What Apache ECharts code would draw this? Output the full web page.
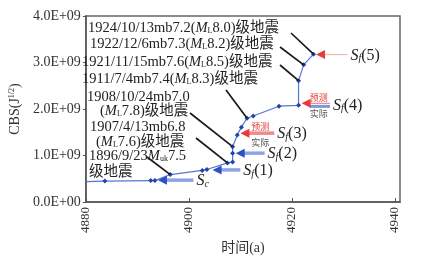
<!DOCTYPE html>
<html><head><meta charset="utf-8">
<script src="https://cdn.jsdelivr.net/npm/echarts@6/dist/echarts.min.js"></script>
<style>html,body{margin:0;padding:0;background:#fff}#c{width:424px;height:262px}</style>
</head><body><div id="c"></div>
<script>
// ---- data ----
const years = [4880, 4883.7, 4892.6, 4893.4, 4896.4, 4902.6, 4903.5, 4907.5, 4908.5, 4908.5, 4908.5, 4909.4, 4910.2, 4911.3, 4912.5, 4917.5, 4921.3, 4921.3, 4922.3, 4924.2];
const cbs = [0.44, 0.45, 0.46, 0.46, 0.59, 0.68, 0.70, 0.84, 0.86, 1.05, 1.19, 1.44, 1.61, 1.80, 1.85, 2.06, 2.08, 2.61, 2.95, 3.18].map(v => v * 1e9);
const yTicks = ['0.0E+00', '1.0E+09', '2.0E+09', '3.0E+09', '4.0E+09'];
const xTicks = ['4880', '4900', '4920', '4940'];

// threshold arrows (S_c, S_f(1..5))
const arrowLabels = ['{si|S}{sub|c}', '{si|S}{sub|f}{r|(1)}', '{si|S}{sub|f}{r|(2)}', '{si|S}{sub|f}{r|(3)}', '{si|S}{sub|f}{r|(4)}', '{si|S}{sub|f}{r|(5)}'];
const arrowY = [0.47, 0.69, 1.05, 1.48, 2.10, 3.17].map(v => v * 1e9);
const arrowTail = [4900.9, 4910.0, 4914.7, 4916.6, 4927.4, 4930.8];
const arrowTip = [4894.0, 4904.6, 4909.1, 4910.0, 4921.9, 4924.7];
const arrowKind = ['actual', 'actual', 'actual', 'pred', 'both', 'predThin'];

// earthquake annotations
const quakeLines = [
  ['1924/10/13mb7.2({i|M}{s|L}8.0)级地震'],
  ['1922/12/6mb7.3({i|M}{s|L}8.2)级地震'],
  ['1921/11/15mb7.6({i|M}{s|L}8.5)级地震'],
  ['1911/7/4mb7.4({i|M}{s|L}8.3)级地震'],
  ['1908/10/24mb7.0', '({i|M}{s|L}7.8)级地震'],
  ['1907/4/13mb6.8', '({i|M}{s|L}7.6)级地震'],
  ['1896/9/23{i|M}{s|uk}7.5', '级地震']
];
const quakePoint = [19, 18, 17, 13, 10, 7, 4];

// ---- layout (pixels) ----
const quakeTextPos = [[88, 28], [90, 44], [82, 62], [82, 79], [87, 97, 100, 111], [90, 127, 96, 142], [89, 156, 89, 172]];
const leaderStart = [[291, 33], [280, 47], [280, 65], [226, 90], [190, 113], [196, 138], [147, 157]];

const SERIF = '"Liberation Serif","Times New Roman","Noto Sans CJK SC",serif';
const chart = echarts.init(document.getElementById('c'), null, {renderer: 'canvas'});

const lineData = years.map((x, i) => i === 0 ? {value: [x, cbs[i]], symbol: 'none'} : [x, cbs[i]]);

chart.setOption({
  animation: false,
  backgroundColor: '#fff',
  grid: {left: 79, right: 24, top: 16, bottom: 60, show: true, borderColor: '#666', borderWidth: 1.5},
  xAxis: {
    type: 'value', min: 4880, max: 4941, interval: 20,
    name: '时间(a)', nameLocation: 'middle', nameGap: 39,
    nameTextStyle: {fontFamily: SERIF, fontSize: 14, color: '#333'},
    axisLine: {lineStyle: {color: '#555', width: 1.5}},
    axisTick: {inside: true, length: 4, lineStyle: {color: '#555'}},
    axisLabel: {rotate: 90, margin: 5, fontFamily: SERIF, fontSize: 13, color: '#333', showMaxLabel: false,
      formatter: v => { const i = xTicks.indexOf(String(v)); return i >= 0 ? xTicks[i] : ''; }},
    splitLine: {show: false}
  },
  yAxis: {
    type: 'value', min: 0, max: 4e9, interval: 1e9,
    name: '{a|CBS(J}{b|1/2}{a|)}', nameLocation: 'middle', nameGap: 60,
    nameTextStyle: {rich: {a: {fontFamily: SERIF, fontSize: 14, color: '#333'}, b: {fontFamily: SERIF, fontSize: 8, color: '#333', verticalAlign: 'top', lineHeight: 10}}},
    axisLine: {show: true, lineStyle: {color: '#555', width: 1.5}},
    axisTick: {show: true, length: 3, lineStyle: {color: '#555'}},
    axisLabel: {margin: 5, fontFamily: SERIF, fontSize: 14, color: '#333', formatter: v => yTicks[Math.round(v / 1e9)]},
    splitLine: {show: false}
  },
  series: [{
    type: 'line', data: lineData, symbol: 'diamond', symbolSize: 5,
    lineStyle: {color: '#5577d0', width: 1.2},
    itemStyle: {color: '#2442a8'}, z: 3
  }]
});

function px(x, y) { return chart.convertToPixel({gridIndex: 0}, [x, y]); }

const g = [];
const rich = {
  i: {fontFamily: SERIF, fontSize: 14.5, fontStyle: 'italic', fill: '#222', color: '#222'},
  s: {fontFamily: SERIF, fontSize: 8, fill: '#222', color: '#222', verticalAlign: 'bottom', lineHeight: 11, padding: [6, 0, 0, 0]}
};
quakeLines.forEach((lines, k) => {
  const pos = quakeTextPos[k];
  lines.forEach((t, j) => {
    g.push({type: 'text', x: pos[2 * j], y: pos[2 * j + 1], z: 10,
      style: {text: t, rich: rich, font: '14.5px ' + SERIF, fontFamily: SERIF, fontSize: 14.5, fill: '#222',
        textAlign: 'left', textVerticalAlign: 'middle', align: 'left', verticalAlign: 'middle'}});
  });
  const p = px(years[quakePoint[k]], cbs[quakePoint[k]]);
  g.push({type: 'line', z: 9, shape: {x1: leaderStart[k][0], y1: leaderStart[k][1], x2: p[0], y2: p[1]},
    style: {stroke: '#1a1a1a', lineWidth: 1.7}});
});

function arrow(tailX, tipX, y, lineColor, lineW, headColor, dy) {
  const a = px(tailX, y), b = px(tipX, y);
  const yy = a[1] + (dy || 0);
  g.push({type: 'line', z: 6, shape: {x1: a[0], y1: yy, x2: b[0] + 7, y2: yy}, style: {stroke: lineColor, lineWidth: lineW}});
  g.push({type: 'polygon', z: 7, shape: {points: [[b[0], yy], [b[0] + 9, yy - 4.5], [b[0] + 9, yy + 4.5]]}, style: {fill: headColor}});
}
const arrowRich = {
  si: {fontFamily: SERIF, fontSize: 16, fontStyle: 'italic', fill: '#222', color: '#222'},
  sub: {fontFamily: SERIF, fontSize: 10, fontStyle: 'italic', fill: '#222', color: '#222', verticalAlign: 'bottom', lineHeight: 12, padding: [8, 0, 0, 0]},
  r: {fontFamily: SERIF, fontSize: 16, fill: '#222', color: '#222'}
};
arrowLabels.forEach((lab, k) => {
  const kind = arrowKind[k];
  if (kind === 'actual') arrow(arrowTail[k], arrowTip[k], arrowY[k], '#8ea4e2', 3.5, '#2e50c0');
  else if (kind === 'pred') arrow(arrowTail[k], arrowTip[k], arrowY[k], '#f08a8a', 3.5, '#e83a3a');
  else if (kind === 'predThin') arrow(arrowTail[k], arrowTip[k], arrowY[k], '#f4a8a8', 1, '#e83a3a');
  else {
    const a = px(arrowTail[k], arrowY[k]), b = px(arrowTip[k], arrowY[k]);
    g.push({type: 'line', z: 5, shape: {x1: a[0], y1: a[1] + 2, x2: b[0] + 8, y2: a[1] + 2}, style: {stroke: '#7f97dc', lineWidth: 3}});
    arrow(arrowTail[k], arrowTip[k], arrowY[k], '#f08a8a', 1.2, '#e83a3a', -1);
  }
  const a = px(arrowTail[k], arrowY[k]);
  g.push({type: 'text', x: a[0] + 3, y: a[1] + 1, z: 10,
    style: {text: lab, rich: arrowRich, font: '16px ' + SERIF, fill: '#222', textAlign: 'left', textVerticalAlign: 'middle', align: 'left', verticalAlign: 'middle'}});
  if (kind === 'pred' || kind === 'both') {
    const b = px(arrowTip[k], arrowY[k]);
    const cx = (a[0] + b[0]) / 2 + 3;
    g.push({type: 'text', x: cx, y: a[1] - 7, z: 10, style: {text: '预测', font: '9px "Noto Sans CJK SC"', fill: '#e04040', textAlign: 'center', textVerticalAlign: 'middle', align: 'center', verticalAlign: 'middle'}});
    g.push({type: 'text', x: cx, y: a[1] + 9, z: 10, style: {text: '实际', font: '9px "Noto Sans CJK SC"', fill: '#555', textAlign: 'center', textVerticalAlign: 'middle', align: 'center', verticalAlign: 'middle'}});
  }
});
chart.setOption({graphic: {elements: g}});
</script></body></html>
